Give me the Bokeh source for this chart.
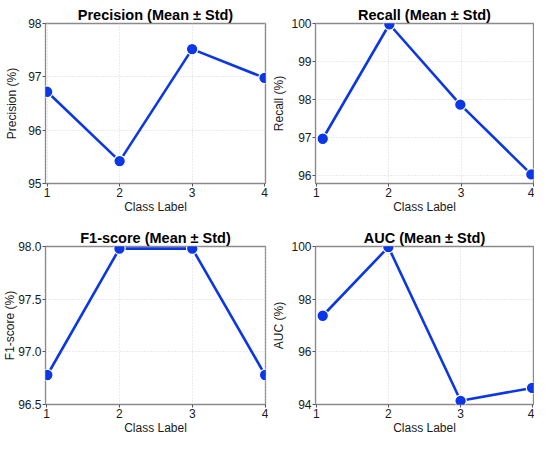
from bokeh.plotting import figure
from bokeh.layouts import gridplot
from bokeh.models import Range1d, FixedTicker, PrintfTickFormatter
from bokeh.embed import file_html
from bokeh.resources import INLINE

class_labels = [1, 2, 3, 4]

prec_x = [1.0, 2.0, 3.0, 4.0]
prec_y = [96.72, 95.42, 97.52, 96.98]
prec_ticks = [95, 96, 97, 98]

rec_x = [1.09, 2.01, 2.99, 3.97]
rec_y = [96.96, 99.98, 97.86, 96.02]
rec_ticks = [96, 97, 98, 99, 100]

f1_x = [1.01, 2.0, 3.0, 4.0]
f1_y = [96.78, 97.98, 97.98, 96.78]
f1_ticks = [96.5, 97.0, 97.5, 98.0]

auc_x = [1.09, 2.0, 3.0, 3.99]
auc_y = [97.37, 99.98, 94.14, 94.63]
auc_ticks = [94, 96, 98, 100]

FONT = "Liberation Sans"
BLUE = "#0b37e6"

def make(title, ylabel, xs, ys, ticks, xr, yr, w, h, bl, br, bt, bb,
         fmt, ystand, toff):
    p = figure(width=w, height=h, output_backend="svg", toolbar_location=None,
               x_range=Range1d(*xr), y_range=Range1d(*yr),
               min_border_left=bl, min_border_right=br, min_border_top=bt,
               min_border_bottom=bb)
    p.title.text = title
    p.title.text_font = FONT
    p.title.text_font_style = "bold"
    p.title.text_font_size = "14.5px"
    p.title.align = "center"
    p.title.text_color = "black"
    p.title.offset = toff
    p.title.standoff = 1
    p.outline_line_color = "#8a8a8a"
    p.outline_line_width = 1.3
    for ax in (p.xaxis[0], p.yaxis[0]):
        ax.axis_line_color = None
        ax.major_tick_line_color = "#555555"
        ax.major_tick_out = 3
        ax.major_tick_in = 0
        ax.minor_tick_line_color = None
        ax.major_label_text_font = FONT
        ax.major_label_text_font_size = "12px"
        ax.major_label_text_color = "#1a1a1a"
        ax.axis_label_text_font = FONT
        ax.axis_label_text_font_size = "12px"
        ax.axis_label_text_font_style = "normal"
        ax.axis_label_text_color = "#1a1a1a"
        ax.major_label_standoff = 1
    p.xaxis[0].axis_label_standoff = 0
    p.yaxis[0].axis_label_standoff = ystand
    p.xaxis[0].ticker = FixedTicker(ticks=class_labels)
    p.yaxis[0].ticker = FixedTicker(ticks=ticks)
    p.xaxis.axis_label = "Class Label"
    p.yaxis.axis_label = ylabel
    if fmt:
        p.yaxis[0].formatter = PrintfTickFormatter(format="%.1f")
    p.xgrid.grid_line_color = "#d6d6d6"
    p.ygrid.grid_line_color = "#d6d6d6"
    p.xgrid.grid_line_dash = "1 2"
    p.ygrid.grid_line_dash = "1 2"
    p.line(xs, ys, line_color=BLUE, line_width=2.6)
    p.scatter(xs, ys, size=11.5, fill_color=BLUE, line_color="white", line_width=1.2)
    return p

p1 = make("Precision (Mean \u00b1 Std)", "Precision (%)", prec_x, prec_y, prec_ticks,
          (0.977, 4.013), (95.0, 98.0), 268, 216, 45, 3, 23, 32, False, 6, 5)
p2 = make("Recall (Mean \u00b1 Std)", "Recall (%)", rec_x, rec_y, rec_ticks,
          (0.99, 4.0), (95.78, 100.0), 266, 216, 47, 1, 23, 32, False, 2, 1)
p3 = make("F1-score (Mean \u00b1 Std)", "F1-score (%)", f1_x, f1_y, f1_ticks,
          (0.985, 4.005), (96.5, 98.0), 268, 221, 45, 3, 30, 33, True, -2, 5)
p4 = make("AUC (Mean \u00b1 Std)", "AUC (%)", auc_x, auc_y, auc_ticks,
          (0.99, 4.01), (94.0, 100.0), 266, 221, 47, 1, 30, 33, False, 2, 5)

grid = gridplot([[p1, p2], [p3, p4]], toolbar_location=None)
open("out.html", "w").write(file_html(grid, INLINE))
